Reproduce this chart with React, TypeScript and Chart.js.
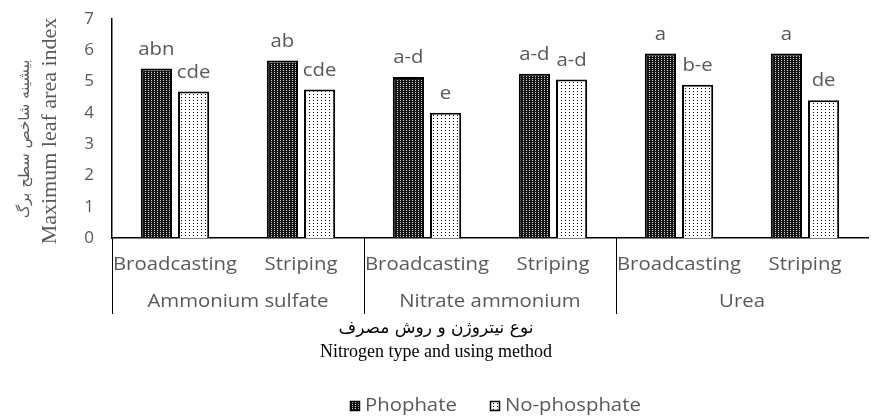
import { useEffect, useRef } from "react";
import { Chart, registerables } from "chart.js";

Chart.register(...registerables);

// Application methods (inner axis level) and nitrogen sources (outer level)
const categories = ["Broadcasting", "Striping", "Broadcasting", "Striping", "Broadcasting", "Striping"];
const groups = ["Ammonium sulfate", "Nitrate ammonium", "Urea"];

// Maximum leaf area index per treatment
const phosphate = [5.42, 5.67, 5.15, 5.25, 5.9, 5.9];
const noPhosphate = [4.68, 4.75, 4.0, 5.07, 4.9, 4.4];

// Mean-comparison letters shown above each bar
const phosphateLetters = ["abn", "ab", "a-d", "a-d", "a", "a"];
const noPhosphateLetters = ["cde", "cde", "e", "a-d", "b-e", "de"];

const seriesNames = ["Phophate", "No-phosphate"];
const yTicks = [0, 1, 2, 3, 4, 5, 6, 7];

const yTitleFa = "بیشینه شاخص سطح برگ";
const yTitleEn = "Maximum leaf area index";
const xTitleFa = "نوع نیتروژن و روش مصرف";
const xTitleEn = "Nitrogen type and using method";

const GRAY = "#595959";
const SANS = "'Open Sans', 'Noto Sans', sans-serif";
const SERIF = "'Liberation Serif', 'DejaVu Serif', serif";
const ARABIC = "'DejaVu Sans', sans-serif";
const LABEL_FONT = `18px ${SANS}`;
const STRETCH = 1.13;

function makeDarkPattern(ctx: CanvasRenderingContext2D) {
  const c = document.createElement("canvas");
  c.width = 3;
  c.height = 2;
  const p = c.getContext("2d")!;
  p.fillStyle = "#161616";
  p.fillRect(0, 0, 3, 2);
  p.fillStyle = "#d0d0d0";
  p.fillRect(1, 0, 1, 1);
  return ctx.createPattern(c, "repeat")!;
}

function makeDotPattern(ctx: CanvasRenderingContext2D) {
  const c = document.createElement("canvas");
  c.width = 4;
  c.height = 3;
  const p = c.getContext("2d")!;
  p.fillStyle = "#ffffff";
  p.fillRect(0, 0, 4, 3);
  p.fillStyle = "#000000";
  p.fillRect(1, 1, 1, 1);
  return ctx.createPattern(c, "repeat")!;
}

// Draws text widened horizontally around its anchor point
function wideText(c: CanvasRenderingContext2D, text: string, x: number, y: number) {
  c.save();
  c.translate(x, y);
  c.scale(STRETCH, 1);
  c.fillText(text, 0, 0);
  c.restore();
}

export default function App() {
  const canvasRef = useRef<HTMLCanvasElement | null>(null);

  useEffect(() => {
    const canvas = canvasRef.current;
    if (!canvas) return;
    const ctx = canvas.getContext("2d")!;
    const darkFill = makeDarkPattern(ctx);
    const dotFill = makeDotPattern(ctx);
    const letters = [phosphateLetters, noPhosphateLetters];

    const decorations = {
      id: "decorations",
      afterDatasetsDraw(chart: any) {
        const c = chart.ctx as CanvasRenderingContext2D;
        c.save();
        c.font = LABEL_FONT;
        c.fillStyle = GRAY;
        c.textAlign = "center";
        c.textBaseline = "middle";
        chart.data.datasets.forEach((_: any, di: number) => {
          const meta = chart.getDatasetMeta(di);
          meta.data.forEach((bar: any, i: number) => {
            wideText(c, letters[di][i], bar.x, bar.y - 19);
          });
        });
        c.restore();
      },
      afterDraw(chart: any) {
        const c = chart.ctx as CanvasRenderingContext2D;
        const xs = chart.scales.x;
        const area = chart.chartArea;
        const base = area.bottom;
        c.save();

        // inner category labels
        c.font = LABEL_FONT;
        c.fillStyle = GRAY;
        c.textAlign = "center";
        c.textBaseline = "middle";
        categories.forEach((lab, i) => {
          wideText(c, lab, xs.getPixelForValue(i), base + 27);
        });

        // outer group labels
        groups.forEach((g, gi) => {
          const x = (xs.getPixelForValue(gi * 2) + xs.getPixelForValue(gi * 2 + 1)) / 2;
          wideText(c, g, x, base + 64);
        });

        // group divider lines
        c.strokeStyle = "#000";
        c.lineWidth = 1;
        const divs = [area.left];
        for (let gi = 1; gi < groups.length; gi++) {
          divs.push((xs.getPixelForValue(gi * 2 - 1) + xs.getPixelForValue(gi * 2)) / 2);
        }
        divs.forEach((x) => {
          const px = Math.round(x) + 0.5;
          c.beginPath();
          c.moveTo(px, base);
          c.lineTo(px, base + 76);
          c.stroke();
        });

        // x axis titles
        c.fillStyle = "#000";
        c.font = `17px ${ARABIC}`;
        c.fillText(xTitleFa, 436, 329);
        c.font = `18px ${SERIF}`;
        c.fillText(xTitleEn, 436, 352);

        // y axis titles (rotated)
        c.save();
        c.translate(25, 139);
        c.rotate(-Math.PI / 2);
        c.fillStyle = GRAY;
        c.font = `15px ${ARABIC}`;
        c.fillText(yTitleFa, 0, 0);
        c.restore();
        c.save();
        c.translate(50, 131);
        c.rotate(-Math.PI / 2);
        c.fillStyle = GRAY;
        c.font = `22px ${SERIF}`;
        c.fillText(yTitleEn, 0, 0);
        c.restore();

        // legend
        const fills = [darkFill, dotFill];
        const legendX = [350, 490];
        c.textAlign = "left";
        c.font = LABEL_FONT;
        seriesNames.forEach((name, i) => {
          const bx = legendX[i];
          c.fillStyle = fills[i];
          c.fillRect(bx, 401, 10, 10);
          c.strokeStyle = "#000";
          c.lineWidth = 1.5;
          c.strokeRect(bx + 0.5, 401.5, 9, 9);
          c.fillStyle = GRAY;
          wideText(c, name, bx + 15, 406);
        });

        c.restore();
      },
    };

    const chart = new Chart(canvas, {
      type: "bar",
      data: {
        labels: categories,
        datasets: [
          {
            label: seriesNames[0],
            data: phosphate,
            backgroundColor: darkFill,
            borderColor: "#000",
            borderWidth: 2,
            barPercentage: 0.84,
            categoryPercentage: 0.59,
          },
          {
            label: seriesNames[1],
            data: noPhosphate,
            backgroundColor: dotFill,
            borderColor: "#000",
            borderWidth: 2,
            barPercentage: 0.84,
            categoryPercentage: 0.59,
          },
        ],
      },
      options: {
        responsive: false,
        animation: false,
        layout: { padding: { top: 19, right: 4, left: 0, bottom: 0 } },
        plugins: {
          legend: { display: false },
          tooltip: { enabled: false },
        },
        scales: {
          x: {
            grid: { display: false },
            border: { display: true, color: "#000", width: 1.5 },
            ticks: { display: false },
            afterFit: (s: any) => {
              s.height = 416 - 238;
              s.paddingLeft = 0;
              s.paddingRight = 0;
            },
          },
          y: {
            min: 0,
            max: 7,
            afterBuildTicks: (s: any) => {
              s.ticks = yTicks.map((v) => ({ value: v }));
            },
            ticks: {
              color: GRAY,
              font: { family: SANS, size: 17 },
              padding: 18,
            },
            grid: { display: false, drawTicks: false },
            border: { display: true, color: "#000", width: 1.5 },
            afterFit: (s: any) => {
              s.width = 112;
              s.paddingTop = 0;
              s.paddingBottom = 0;
            },
          },
        },
      },
      plugins: [decorations],
    });

    return () => chart.destroy();
  }, []);

  return (
    <div style={{ position: "absolute", left: 0, top: 0, width: 872, height: 416, background: "#fff" }}>
      <canvas ref={canvasRef} width={872} height={416} style={{ display: "block" }} />
    </div>
  );
}
